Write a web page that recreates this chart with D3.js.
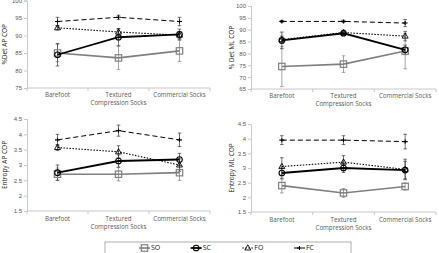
<!DOCTYPE html>
<html>
<head>
<meta charset="utf-8">
<script src="https://cdn.jsdelivr.net/npm/d3@7"></script>
<style>
  body { margin: 0; background: #fff; }
  svg { display: block; font-family: "Open Sans", sans-serif; }
</style>
</head>
<body>
<svg id="chart" width="439" height="253"></svg>
<script>
// categories and series
const categories = [['Barefoot'], ['Textured', 'Compression Socks'], ['Commercial Socks']];
const seriesNames = ['SO', 'SC', 'FO', 'FC'];

// %Det AP COP  (rows: SO, SC, FO, FC)
const detApMeans = [[85, 83.6, 85.6], [84.5, 89.5, 90.3], [92.2, 91, 90.1], [94, 95.2, 94]];
const detApErr = [[2.5, 3.3, 3], [3.2, 2.4, 1.5], [0.6, 1, 1], [1.2, 0.6, 1.2]];
const detApTicks = [75, 80, 85, 90, 95, 100];

// % Det ML COP
const detMlMeans = [[74.5, 75.5, 81], [85.5, 88.5, 81.5], [85.8, 88.8, 87.3], [93.5, 93.5, 92.8]];
const detMlErr = [[8.5, 3.5, 7.5], [3.5, 1, 2], [1.5, 1, 2], [0.4, 0.5, 1.5]];
const detMlTicks = [65, 70, 75, 80, 85, 90, 95, 100];

// Entropy AP COP
const entApMeans = [[2.7, 2.7, 2.75], [2.75, 3.13, 3.18], [3.57, 3.43, 3.0], [3.82, 4.12, 3.82]];
const entApErr = [[0.2, 0.22, 0.25], [0.25, 0.2, 0.2], [0.1, 0.2, 0.2], [0.18, 0.18, 0.22]];
const entApTicks = [1.5, 2, 2.5, 3, 3.5, 4, 4.5];

// Entropy ML COP
const entMlMeans = [[2.4, 2.15, 2.37], [2.83, 3.0, 2.93], [3.05, 3.2, 2.95], [3.95, 3.95, 3.9]];
const entMlErr = [[0.25, 0.15, 0.12], [0.2, 0.15, 0.3], [0.3, 0.22, 0.35], [0.15, 0.15, 0.25]];
const entMlTicks = [1.5, 2, 2.5, 3, 3.5, 4, 4.5];

const svg = d3.select('#chart');

// line / marker look per series
const styles = [
  {stroke: '#7f7f7f', width: 1.6, dash: null, marker: 'square'},
  {stroke: '#000', width: 1.8, dash: null, marker: 'circle'},
  {stroke: '#000', width: 1.1, dash: '1.5,1.5', marker: 'triangle'},
  {stroke: '#000', width: 1, dash: '5,3', marker: 'plus'}
];

const panels = [
  {title: '%Det AP COP', means: detApMeans, err: detApErr, ticks: detApTicks,
    x0: 27, x1: 210, yTop: 0.5, yBot: 88, titleX: 5, labelY: 95},
  {title: '% Det ML COP', means: detMlMeans, err: detMlErr, ticks: detMlTicks,
    x0: 251, x1: 436, yTop: 6, yBot: 89, titleX: 232, labelY: 96},
  {title: 'Entropy AP COP', means: entApMeans, err: entApErr, ticks: entApTicks,
    x0: 27, x1: 210, yTop: 119, yBot: 211, titleX: 5, labelY: 219},
  {title: 'Entropy ML COP', means: entMlMeans, err: entMlErr, ticks: entMlTicks,
    x0: 251, x1: 436, yTop: 124, yBot: 212, titleX: 232, labelY: 220}
];

function drawMarker(g, type, cx, cy, st) {
  if (type === 'square') {
    g.append('rect').attr('x', cx - 3.2).attr('y', cy - 3.2).attr('width', 6.4).attr('height', 6.4)
      .attr('fill', 'none').attr('stroke', st.stroke).attr('stroke-width', 1.2);
  } else if (type === 'circle') {
    g.append('circle').attr('cx', cx).attr('cy', cy).attr('r', 2.8)
      .attr('fill', 'none').attr('stroke', st.stroke).attr('stroke-width', 1.1);
  } else if (type === 'triangle') {
    g.append('path').attr('d', `M${cx},${cy - 3.2}L${cx + 3},${cy + 2}L${cx - 3},${cy + 2}Z`)
      .attr('fill', 'none').attr('stroke', st.stroke).attr('stroke-width', 0.9);
  } else {
    g.append('path').attr('d', `M${cx - 2.5},${cy}H${cx + 2.5}M${cx},${cy - 2}V${cy + 2}`)
      .attr('stroke', st.stroke).attr('stroke-width', 1.1);
  }
}

panels.forEach(p => {
  const g = svg.append('g');
  const x = d3.scaleBand().domain(d3.range(categories.length)).range([p.x0, p.x1]);
  const y = d3.scaleLinear().domain(d3.extent(p.ticks)).range([p.yBot, p.yTop]);

  // y axis
  const yAxis = g.append('g').attr('transform', `translate(${p.x0},0)`)
    .call(d3.axisLeft(y).tickValues(p.ticks).tickSize(3).tickPadding(2).tickFormat(d3.format('')));
  yAxis.select('.domain').attr('stroke', '#c8c8c8');
  yAxis.selectAll('.tick line').attr('stroke', '#c8c8c8');
  yAxis.selectAll('text').attr('fill', '#595959').attr('font-size', 6);

  // x axis, ticks at category boundaries
  const xg = g.append('g').attr('transform', `translate(0,${p.yBot})`);
  xg.append('line').attr('x1', p.x0).attr('x2', p.x1).attr('stroke', '#c8c8c8');
  xg.selectAll('line.b').data(d3.range(categories.length + 1)).enter().append('line')
    .attr('class', 'b')
    .attr('x1', i => p.x0 + i * x.step()).attr('x2', i => p.x0 + i * x.step())
    .attr('y1', 0).attr('y2', 3).attr('stroke', '#c8c8c8');
  categories.forEach((lines, i) => {
    const t = g.append('text').attr('text-anchor', 'middle').attr('font-size', 6.2).attr('fill', '#595959');
    lines.forEach((ln, k) => {
      t.append('tspan').attr('x', x(i) + x.bandwidth() / 2).attr('y', p.labelY + 2 + k * 7.5).text(ln);
    });
  });

  // y title
  g.append('text')
    .attr('transform', `translate(${p.titleX},${(p.yTop + p.yBot) / 2}) rotate(-90)`)
    .attr('text-anchor', 'middle').attr('dy', '0.35em')
    .attr('font-size', 6.5).attr('fill', '#222').text(p.title);

  const cx = i => x(i) + x.bandwidth() / 2;

  // error bars
  p.means.forEach((row, s) => {
    row.forEach((m, i) => {
      const e = p.err[s][i];
      const eb = g.append('g').attr('stroke', s === 0 ? '#7f7f7f' : '#333').attr('stroke-width', 0.7);
      eb.append('line').attr('x1', cx(i)).attr('x2', cx(i)).attr('y1', y(m - e)).attr('y2', y(m + e));
      [m - e, m + e].forEach(v => eb.append('line')
        .attr('x1', cx(i) - 1.8).attr('x2', cx(i) + 1.8).attr('y1', y(v)).attr('y2', y(v)));
    });
  });

  // lines and markers
  p.means.forEach((row, s) => {
    const st = styles[s];
    const line = d3.line().x((d, i) => cx(i)).y(d => y(d));
    g.append('path').datum(row).attr('d', line).attr('fill', 'none')
      .attr('stroke', st.stroke).attr('stroke-width', st.width)
      .attr('stroke-dasharray', st.dash);
    row.forEach((m, i) => drawMarker(g, st.marker, cx(i), y(m), st));
  });
});

// legend
const lg = svg.append('g');
lg.append('rect').attr('x', 105).attr('y', 242).attr('width', 246).attr('height', 14)
  .attr('fill', '#fff').attr('stroke', '#9a9a9a').attr('stroke-width', 0.8);
const legendX = d3.scalePoint().domain(seriesNames).range([140, 295]);
seriesNames.forEach((n, s) => {
  const st = styles[s];
  const lx = legendX(n);
  lg.append('line').attr('x1', lx - 1).attr('x2', lx + 10).attr('y1', 248).attr('y2', 248)
    .attr('stroke', st.stroke).attr('stroke-width', st.width).attr('stroke-dasharray', st.dash);
  drawMarker(lg, st.marker, lx + 4.5, 248, st);
  lg.append('text').attr('x', lx + 11).attr('y', 248).attr('dy', '0.35em')
    .attr('font-size', 7).attr('fill', '#222').text(n);
});
</script>
</body>
</html>
